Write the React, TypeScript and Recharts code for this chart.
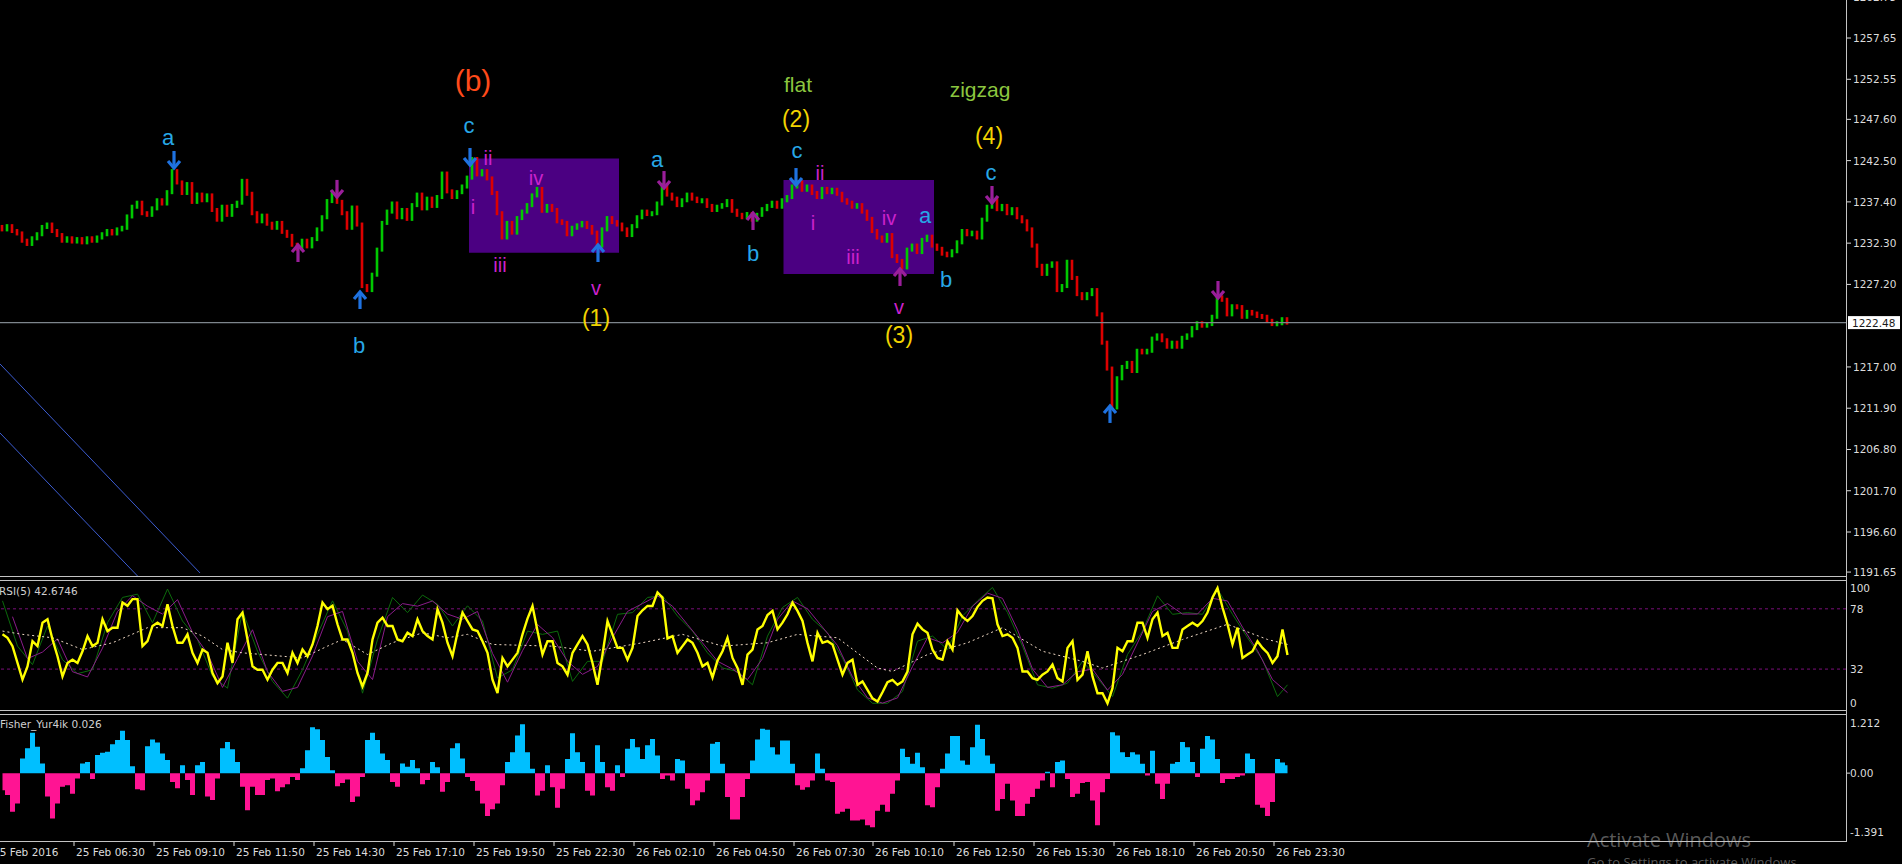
import React from 'react';
import {
  ComposedChart,
  Bar,
  Area,
  Line,
  XAxis,
  YAxis,
  ReferenceArea,
  ReferenceLine,
  ReferenceDot,
} from 'recharts';

// ---------------- DATA ----------------
// 10-minute sampled closes read from the M5 chart (bar index 0 = left edge)
const FIRST_OPEN = 1234.3;
const CLOSES = [
  1234.0, 1234.4, 1233.8, 1233.5, 1232.6, 1232.2, 1232.9, 1233.4, 1234.3, 1234.6,
  1233.8, 1233.3, 1232.6, 1232.9, 1232.5, 1232.8, 1232.4, 1232.9, 1232.6, 1233.0,
  1233.4, 1233.8, 1233.5, 1234.0, 1234.2, 1235.6, 1236.8, 1237.3, 1236.0, 1235.8,
  1236.6, 1237.6, 1237.2, 1238.6, 1241.2, 1239.8, 1238.5, 1239.6, 1237.4, 1238.3,
  1237.6, 1238.2, 1236.4, 1235.2, 1236.8, 1235.8, 1236.9, 1237.3, 1240.0, 1238.4,
  1236.0, 1235.0, 1235.7, 1234.7, 1234.2, 1234.8, 1233.7, 1233.2, 1232.1, 1231.6,
  1232.6, 1231.9, 1232.8, 1234.0, 1235.5, 1237.5, 1238.6, 1237.4, 1236.0, 1234.2,
  1236.7, 1234.6, 1227.0, 1226.5, 1228.4, 1231.5, 1234.8, 1236.2, 1237.2, 1235.5,
  1236.4, 1235.3, 1237.0, 1238.3, 1236.6, 1237.8, 1236.9, 1238.0, 1240.9, 1238.7,
  1238.0, 1238.6, 1239.3, 1240.4, 1242.7, 1240.8, 1241.2, 1240.3, 1238.5, 1236.0,
  1233.0, 1234.8, 1233.6, 1235.4, 1236.2, 1237.0, 1238.2, 1239.0, 1236.3, 1236.9,
  1236.4, 1235.0, 1234.8, 1233.4, 1234.2, 1234.5, 1234.8, 1234.3, 1233.6, 1232.0,
  1234.0, 1235.4, 1234.9, 1234.6, 1234.0, 1233.3, 1234.4, 1235.5, 1236.2, 1235.9,
  1236.0, 1237.2, 1239.5, 1238.3, 1237.8, 1237.0, 1237.6, 1238.3, 1237.8, 1237.5,
  1237.6, 1236.9, 1236.4, 1236.8, 1237.0, 1237.5, 1236.3, 1235.8, 1235.5, 1235.9,
  1235.2, 1235.8, 1236.5, 1236.9, 1237.3, 1236.8, 1237.6, 1238.0, 1239.3, 1239.8,
  1238.9, 1239.3, 1238.5, 1238.0, 1239.0, 1238.6, 1238.9, 1238.4, 1237.6, 1237.3,
  1236.8, 1237.0, 1236.2, 1235.3, 1233.8, 1233.0, 1232.6, 1233.3, 1230.7, 1230.1,
  1229.3, 1231.5, 1232.0, 1231.2, 1232.7, 1233.1, 1232.0, 1231.6, 1231.0, 1230.8,
  1231.3, 1232.4, 1233.8, 1233.4, 1233.6, 1233.0, 1235.2, 1236.8, 1237.8, 1236.5,
  1236.9, 1236.0, 1236.5, 1235.5, 1235.0, 1234.0, 1232.0, 1229.5, 1228.5, 1229.5,
  1229.8, 1226.5, 1227.0, 1230.0, 1228.0, 1226.0, 1225.5, 1226.0, 1226.5, 1223.5,
  1220.0, 1216.8, 1212.0, 1215.6, 1217.0, 1217.5, 1216.5, 1219.0, 1218.8, 1219.0,
  1220.5, 1220.9, 1220.3, 1219.5, 1220.0, 1219.5, 1220.6, 1220.9, 1221.8, 1222.4,
  1222.1, 1222.3, 1223.2, 1225.6, 1225.3, 1223.5, 1224.5, 1224.4, 1223.2, 1223.8,
  1223.6, 1223.3, 1223.2, 1222.7, 1222.3, 1222.4, 1222.9, 1222.48,
];

const RSI = [
  58.5, 55.9, 49.5, 36.7, 24, 34, 53.3, 49.5, 67.4, 70,
  54.6, 41.8, 26.4, 36.7, 39.2, 36.7, 45.6, 57.2, 49.5, 52.1,
  70, 61, 63.6, 63.6, 82.8, 80.3, 85.4, 85.4, 49.5, 53.3,
  64.9, 67.4, 64.9, 81.5, 64.9, 52.1, 52.1, 58.5, 44.4, 36.7,
  46.9, 44.4, 29, 21.3, 26.4, 52.1, 36.7, 70, 75.1, 54.6,
  34.1, 31.5, 31.5, 23.9, 31.5, 36.7, 36.7, 29, 44.4, 36.7,
  46.9, 41.8, 50.8, 64.9, 82.8, 77.7, 80.3, 66.2, 54.6, 54.6,
  44.4, 29, 18.7, 29, 54.6, 67.4, 71.3, 64.9, 64.9, 54.6,
  53.3, 59.7, 57.2, 70, 61, 57.2, 54.6, 77.7, 67.4, 52.1,
  41.8, 59.7, 75.1, 68.7, 62.3, 61, 53.3, 44.4, 23.9, 13.6,
  40.5, 34.1, 39.2, 44.4, 58.5, 70.5, 80.2, 61, 43.1, 53.3,
  53.3, 36.7, 34.1, 27.7, 44.4, 50.8, 57.2, 50.8, 36.7, 20,
  43.1, 68.7, 58.5, 48.2, 48.2, 39.2, 48.2, 72.5, 76.9, 80.2,
  80.2, 90.5, 86.6, 55.4, 57.2, 44.4, 49.5, 54.6, 52, 44.4,
  34.1, 36.7, 25.6, 38.5, 45.6, 55.9, 40.5, 32.8, 20, 43.1,
  46.9, 62.3, 64.9, 73.3, 76.4, 62.3, 67.4, 73.8, 82.8, 76.4,
  68.7, 52, 37.9, 59.7, 52, 53.3, 50.8, 39.2, 27.7, 36.7,
  39.2, 20, 22.6, 16.1, 9.7, 7.2, 14.3, 22, 23.8, 20,
  22.6, 30.2, 58.5, 66.7, 62.3, 59.7, 46.9, 40.5, 39.2, 53.3,
  46.9, 76.9, 71.8, 68.7, 72.5, 79.5, 84.1, 86.6, 86.1, 66.2,
  57.2, 58.5, 55.9, 48.2, 30.2, 30.2, 25.1, 23.8, 27.7, 30.2,
  35.4, 25.1, 22.6, 48.2, 53.3, 23.8, 27.7, 45.6, 26.4, 13.6,
  13.6, 5.9, 17.4, 48.2, 45.6, 53.3, 53.3, 67.4, 67.4, 55.9,
  70, 75.1, 57.2, 59.7, 48.2, 48.2, 62.3, 64.9, 67.4, 64.9,
  68.7, 75.1, 86.6, 93.8, 79, 66.2, 50.8, 63.6, 40.5, 43.1,
  45.6, 53.3, 48.2, 44.4, 36.7, 41.8, 62.3, 42.7,
];

// green signal line, read every 3rd bar (0,3,6,... last = final bar)
const RSI_GREEN = [
  84.1, 49.5, 35.4, 64.9, 39.2, 28.5, 31.5, 67.4, 86.7, 89.2,
  67.4, 93.1, 68.7, 54.6, 26.4, 17.4, 76.4, 45.6, 22.6, 9.8,
  31.5, 58.5, 84.1, 61, 13.6, 54.6, 86.7, 75.1, 88.5, 81.5,
  64.9, 80.3, 68.7, 25.1, 31.5, 61, 58.5, 61, 22.6, 37.9,
  37.9, 73.8, 75.1, 86.7, 87.9, 72.5, 61, 44.4, 32.8, 30.2,
  20, 57.2, 79, 86.7, 70, 59.7, 40.5, 16.1, 5.9, 5.9,
  14.9, 53.3, 57.2, 46.9, 72.5, 84.1, 94.3, 75.1, 49.5, 20,
  17.4, 21.3, 37.9, 25.1, 11, 43.1, 61, 87.9, 73.8, 75.1,
  73.8, 93.1, 73.8, 55.9, 39.2, 11, 20,
];
// purple signal line, read every 3rd bar starting at bar 2
const RSI_PURPLE = [
  72, 40, 45, 55, 30, 26, 48, 76, 88, 80,
  74, 85, 60, 44, 18, 40, 62, 30, 15, 18,
  42, 72, 76, 38, 24, 72, 82, 80, 84, 74,
  70, 76, 44, 22, 46, 66, 56, 38, 28, 34,
  56, 76, 82, 88, 80, 66, 52, 38, 32, 24,
  40, 70, 84, 78, 64, 50, 26, 10, 6, 10,
  34, 56, 52, 60, 80, 90, 86, 62, 32, 18,
  20, 30, 32, 16, 28, 52, 76, 82, 74, 74,
  86, 84, 64, 46, 24, 14,
];
// slow dashed average of RSI
const DASH_BARS = [0, 4, 10, 16, 22, 29, 36, 40, 44, 48, 56, 60, 65, 68, 73, 78, 84, 89, 93, 98,
  110, 118, 128, 136, 144, 153, 159, 167, 175, 178, 185, 193, 200, 208, 216, 220, 228, 236, 245, 253, 257];
const DASH_VALS = [61, 58.5, 55.9, 46.9, 52.1, 63.6, 63.6, 57.2, 46.9, 44.4, 41.8, 40.5, 49.5, 54.6, 43.1,
  52.1, 59.7, 55.9, 58.5, 50.8, 49.5, 45.6, 52.1, 58.5, 49.5, 52.1, 58.5, 55.9, 32.8, 30.2, 43.1, 52.1,
  63.6, 45.6, 37.9, 32.8, 43.1, 54.6, 66.2, 54.6, 50.8];

const FISHER = [
  -0.35, -0.45, -0.79, -0.62, 0.30, 0.51, 0.83, 0.54, 0.20, -0.48,
  -0.93, -0.62, -0.28, -0.25, -0.42, -0.11, 0.20, 0.23, -0.12, 0.37,
  0.42, 0.44, 0.59, 0.68, 0.87, 0.68, 0.14, -0.33, -0.35, 0.55,
  0.69, 0.63, 0.40, 0.27, -0.18, -0.31, 0.16, -0.14, -0.45, 0.16,
  0.23, -0.48, -0.55, -0.11, 0.51, 0.64, 0.49, 0.23, -0.28, -0.76,
  -0.28, -0.45, -0.45, -0.14, -0.11, -0.37, -0.29, -0.23, -0.08, -0.14,
  0.10, 0.47, 0.94, 0.90, 0.68, 0.33, 0.06, -0.27, -0.20, -0.13,
  -0.59, -0.48, -0.08, 0.68, 0.83, 0.68, 0.40, 0.27, -0.18, -0.28,
  0.20, 0.13, 0.27, 0.10, -0.23, -0.14, 0.23, 0.12, -0.38, -0.18,
  0.51, 0.61, 0.30, -0.08, -0.16, -0.36, -0.62, -0.88, -0.74, -0.62,
  -0.25, 0.23, 0.43, 0.77, 1.00, 0.43, 0.09, -0.46, -0.36, 0.16,
  -0.29, -0.71, -0.32, 0.29, 0.82, 0.43, 0.23, -0.36, -0.46, 0.57,
  0.23, -0.29, -0.36, 0.16, -0.08, 0.50, 0.70, 0.53, 0.29, 0.57,
  0.70, 0.36, -0.12, -0.05, -0.15, 0.29, 0.26, -0.32, -0.66, -0.56,
  -0.39, -0.15, 0.60, 0.64, 0.19, -0.49, -0.95, -0.95, -0.49, -0.12,
  0.26, 0.69, 0.91, 0.89, 0.53, 0.38, 0.67, 0.67, 0.19, -0.25,
  -0.34, -0.29, -0.15, 0.40, 0.09, -0.15, -0.18, -0.83, -0.79, -0.73,
  -0.97, -0.97, -0.95, -1.07, -1.11, -0.77, -0.65, -0.79, -0.42, -0.15,
  0.50, 0.33, 0.19, 0.42, 0.12, -0.66, -0.70, -0.29, 0.09, 0.40,
  0.76, 0.76, 0.26, 0.17, 0.53, 0.99, 0.70, 0.36, 0.19, -0.77,
  -0.53, -0.22, -0.56, -0.88, -0.88, -0.63, -0.49, -0.32, -0.15, 0.03,
  -0.29, 0.23, 0.26, -0.12, -0.49, -0.42, -0.20, -0.18, -0.56, -1.07,
  -0.39, -0.12, 0.84, 0.77, 0.43, 0.33, 0.43, 0.38, 0.19, -0.05,
  0.46, -0.22, -0.53, -0.22, 0.19, 0.23, 0.64, 0.53, 0.23, -0.08,
  0.50, 0.76, 0.69, 0.29, -0.20, -0.12, -0.12, -0.08, -0.05, 0.40,
  0.29, -0.65, -0.71, -0.88, -0.59, 0.29, 0.22, 0.16,
];

const PRICE_TICKS = [1262.75, 1257.65, 1252.55, 1247.6, 1242.5, 1237.4, 1232.3, 1227.2, 1222.48, 1217.0,
  1211.9, 1206.8, 1201.7, 1196.6, 1191.65];
const CURRENT_PRICE = 1222.48;
const RSI_TICKS = [0, 32, 78, 100];
const RSI_LEVELS = [78, 32];
const FISHER_TICKS = [-1.391, 0, 1.212];
const FISHER_TICK_LABELS = ['-1.391', '0.00', '1.212'];

const TIME_TICK_POS = [14.8, 30.8, 46.8, 62.8, 78.8, 94.8, 110.8, 126.8, 142.8, 158.8, 174.6, 190.8,
  206.8, 222.8, 238.8, 254.8];
const TIME_LABELS = ['25 Feb 06:30', '25 Feb 09:10', '25 Feb 11:50', '25 Feb 14:30', '25 Feb 17:10',
  '25 Feb 19:50', '25 Feb 22:30', '26 Feb 02:10', '26 Feb 04:50', '26 Feb 07:30', '26 Feb 10:10',
  '26 Feb 12:50', '26 Feb 15:30', '26 Feb 18:10', '26 Feb 20:50', '26 Feb 23:30'];
const FIRST_DATE_LABEL = '25 Feb 2016';

// wave-count boxes [x1, x2, priceTop, priceBottom]
const BOXES = [
  [93.8, 123.8, 1242.75, 1231.1],
  [156.7, 186.8, 1240.1, 1228.5],
];
// channel lines [x1, p1, x2, p2]
const CHANNEL = [
  [0, 1217.37, 40, 1191.54],
  [0, 1208.84, 27.6, 1191.1],
];

// arrows: position, price, direction (1 = down, -1 = up), kind
const ARROW_POS = [34.8, 59.6, 67.4, 72.0, 94.0, 119.6, 132.8, 150.6, 159.2, 180.0, 198.4, 222.0, 243.6];
const ARROW_PRICE = [1242.58, 1231.08, 1239.0, 1225.27, 1242.95, 1231.08, 1240.1, 1235.04, 1240.47,
  1228.12, 1238.25, 1211.19, 1226.51];
const ARROW_DIR = [1, -1, 1, -1, 1, -1, 1, -1, 1, -1, 1, -1, 1];
const ARROW_KIND = ['blue', 'purple', 'purple', 'blue', 'blue', 'blue', 'purple', 'purple', 'blue',
  'purple', 'purple', 'blue', 'purple'];

// wave labels
const LABEL_TEXT = ['(b)', 'a', 'b', 'c', 'ii', 'i', 'iv', 'iii', 'v', '(1)', 'a', 'flat', '(2)', 'c',
  'ii', 'i', 'iv', 'iii', 'a', 'b', 'b', 'v', '(3)', 'zigzag', '(4)', 'c'];
const LABEL_POS = [94.6, 33.6, 71.8, 93.8, 97.6, 94.6, 107.2, 100, 119.2, 119.2, 131.4, 159.6, 159.2, 159.4,
  164, 162.6, 177.8, 170.6, 185, 150.6, 189.2, 179.8, 179.8, 196, 197.8, 198.2];
const LABEL_PRICE = [1252.34, 1245.3, 1219.71, 1246.9, 1242.82, 1236.77, 1240.35, 1229.6, 1226.76, 1223.05,
  1242.58, 1251.85, 1247.64, 1243.69, 1240.97, 1234.79, 1235.41, 1230.59, 1235.66, 1231.08, 1227.75,
  1224.41, 1220.95, 1251.35, 1245.54, 1240.97];
const LABEL_KIND = ['degree', 'abc', 'abc', 'abc', 'roman', 'roman', 'roman', 'roman', 'roman', 'num', 'abc',
  'name', 'num', 'abc', 'roman', 'roman', 'roman', 'roman', 'abc', 'abc', 'abc', 'roman', 'num', 'name',
  'num', 'abc'];

// ---------------- STYLE ----------------
const W = 1902;
const PLOT_W = 1846;
const AXIS_W = W - PLOT_W;
const X_DOMAIN: [number, number] = [0, 369.2];
const MAIN_H = 577;
const RSI_TOP = 580;
const RSI_H = 131;
const FISH_TOP = 714;
const FISH_PLOT_H = 127;
const TIME_AXIS_H = 23;
const AXIS_FONT = '"DejaVu Sans", Verdana, sans-serif';
const TEXT_FONT = '"Liberation Sans", Arial, sans-serif';
const AXIS_COLOR = '#DCDCDC';
const BORDER = '#C4C4C4';
const UP = '#00C800';
const DOWN = '#DC0000';
const FISH_POS = '#00BFFF';
const FISH_NEG = '#FF1493';

const KIND_STYLE: Record<string, { color: string; size: number }> = {
  degree: { color: '#FF4A1A', size: 30 },
  abc: { color: '#27A7E7', size: 22 },
  roman: { color: '#CC22CC', size: 20 },
  num: { color: '#F2D400', size: 23 },
  name: { color: '#8CC63F', size: 21 },
};
const ARROW_COLOR: Record<string, string> = { blue: '#1F72E0', purple: '#9A1E9A' };

// ---------------- DERIVED TABLES ----------------
const candleData = CLOSES.map((c, i) => {
  const o = i === 0 ? FIRST_OPEN : CLOSES[i - 1];
  return { pos: i + 0.5, range: [Math.min(o, c), Math.max(o, c)], up: c >= o };
});

const rsiData = RSI.map((v, i) => {
  const row: any = { pos: i + 0.5, rsi: v };
  if (i % 3 === 0 && RSI_GREEN[i / 3] !== undefined) row.g = RSI_GREEN[i / 3];
  if (i === RSI.length - 1) row.g = RSI_GREEN[RSI_GREEN.length - 1];
  if (i % 3 === 2 && RSI_PURPLE[(i - 2) / 3] !== undefined) row.p = RSI_PURPLE[(i - 2) / 3];
  const di = DASH_BARS.indexOf(i);
  if (di >= 0) row.d = DASH_VALS[di];
  return row;
});

// histogram drawn as step areas split by sign
const fisherData = FISHER.map((f, i) => ({ pos: i + 0.5, up: f > 0 ? f : 0, dn: f < 0 ? f : 0 }));

// ---------------- SHAPES ----------------
const Candle = (props: any) => {
  const { x, y, width, height, payload } = props;
  if (x == null || y == null) return null;
  const cx = x + width / 2;
  const h = Math.max(Math.abs(height || 0), 1);
  return <rect x={cx - 1.3} y={y - 2} width={2.6} height={h + 4} fill={payload.up ? UP : DOWN} />;
};

const Arrow = ({ cx, cy, dir, color }: any) => {
  const tip = cy + dir * 8;
  const tail = cy - dir * 9;
  const wing = cy + dir * 1;
  return (
    <g stroke={color} strokeWidth={3.2} fill="none" strokeLinejoin="miter">
      <line x1={cx} y1={tail} x2={cx} y2={tip - dir * 2} />
      <polyline points={`${cx - 6},${wing} ${cx},${tip} ${cx + 6},${wing}`} />
    </g>
  );
};

const PriceTick = (props: any) => {
  const { y, payload } = props;
  const v = payload.value as number;
  if (v === CURRENT_PRICE) {
    return (
      <g>
        <rect x={PLOT_W + 2} y={y - 6.5} width={52} height={13} fill="#FFFFFF" />
        <text x={PLOT_W + 6} y={y + 4} fill="#1A1A1A" fontSize={10.5} fontFamily={AXIS_FONT}>
          {v.toFixed(2)}
        </text>
      </g>
    );
  }
  return (
    <g>
      <line x1={PLOT_W + 1} x2={PLOT_W + 5} y1={y} y2={y} stroke={AXIS_COLOR} />
      <text x={PLOT_W + 7} y={y + 4} fill={AXIS_COLOR} fontSize={10.5} fontFamily={AXIS_FONT}>
        {v.toFixed(2)}
      </text>
    </g>
  );
};

const RsiTick = (props: any) => {
  const { y, payload } = props;
  const v = payload.value as number;
  const off = v === 100 ? 8 : v === 0 ? -8 : 0;
  return (
    <text x={PLOT_W + 4} y={y + off + 4} fill={AXIS_COLOR} fontSize={10.5} fontFamily={AXIS_FONT}>
      {String(v)}
    </text>
  );
};

const FisherTick = (props: any) => {
  const { y, payload } = props;
  const v = payload.value as number;
  const idx = FISHER_TICKS.indexOf(v);
  const off = v === FISHER_TICKS[2] ? 9 : v === FISHER_TICKS[0] ? -9 : 0;
  return (
    <g>
      {v === 0 && <line x1={PLOT_W + 1} x2={PLOT_W + 4} y1={y} y2={y} stroke={AXIS_COLOR} />}
      <text x={PLOT_W + 4} y={y + off + 4} fill={AXIS_COLOR} fontSize={10.5} fontFamily={AXIS_FONT}>
        {FISHER_TICK_LABELS[idx]}
      </text>
    </g>
  );
};

const TimeTick = (props: any) => {
  const { x, payload } = props;
  const idx = TIME_TICK_POS.indexOf(payload.value);
  if (idx < 0) {
    return (
      <text x={x - 7} y={FISH_PLOT_H + 15} fill={AXIS_COLOR} fontSize={10.5} fontFamily={AXIS_FONT}>
        {FIRST_DATE_LABEL}
      </text>
    );
  }
  return (
    <g>
      <line x1={x} x2={x} y1={FISH_PLOT_H} y2={FISH_PLOT_H + 5} stroke={AXIS_COLOR} />
      <text x={x + 2} y={FISH_PLOT_H + 15} fill={AXIS_COLOR} fontSize={10.5} fontFamily={AXIS_FONT}>
        {TIME_LABELS[idx]}
      </text>
    </g>
  );
};

const hLine = (top: number) => (
  <div key={'h' + top} style={{ position: 'absolute', left: 0, top, width: PLOT_W + 1, height: 1, background: BORDER }} />
);

export default function App() {
  return (
    <div
      style={{
        position: 'absolute',
        left: 0,
        top: 0,
        width: W,
        height: 864,
        background: '#000000',
        overflow: 'hidden',
      }}
    >
      {/* MAIN PRICE PANE */}
      <div style={{ position: 'absolute', left: 0, top: 0 }}>
        <ComposedChart width={W} height={MAIN_H} data={candleData} margin={{ top: 0, right: 0, bottom: 0, left: 0 }}>
          <XAxis dataKey="pos" type="number" domain={X_DOMAIN} hide allowDataOverflow />
          <YAxis
            orientation="right"
            type="number"
            domain={[1191.04, 1262.35]}
            allowDataOverflow
            ticks={PRICE_TICKS}
            interval={0}
            width={AXIS_W}
            axisLine={false}
            tickLine={false}
            tick={<PriceTick />}
          />
          {BOXES.map((b, i) => (
            <ReferenceArea
              key={'box' + i}
              x1={b[0]}
              x2={b[1]}
              y1={b[3]}
              y2={b[2]}
              fill="#4B0082"
              fillOpacity={1}
              stroke="none"
            />
          ))}
          <ReferenceLine y={CURRENT_PRICE} stroke="#7D858C" strokeWidth={1.3} />
          {CHANNEL.map((c, i) => (
            <ReferenceLine
              key={'ch' + i}
              segment={[
                { x: c[0], y: c[1] },
                { x: c[2], y: c[3] },
              ]}
              stroke="#3C5CD0"
              strokeWidth={1}
              ifOverflow="visible"
            />
          ))}
          <Bar dataKey="range" barSize={2} shape={<Candle />} isAnimationActive={false} />
          {ARROW_POS.map((p, i) => (
            <ReferenceDot
              key={'ar' + i}
              x={p}
              y={ARROW_PRICE[i]}
              r={0}
              ifOverflow="visible"
              shape={(sp: any) => (
                <Arrow cx={sp.cx} cy={sp.cy} dir={ARROW_DIR[i]} color={ARROW_COLOR[ARROW_KIND[i]]} />
              )}
            />
          ))}
          {LABEL_TEXT.map((t, i) => (
            <ReferenceDot
              key={'lb' + i}
              x={LABEL_POS[i]}
              y={LABEL_PRICE[i]}
              r={0}
              ifOverflow="visible"
              shape={(sp: any) => (
                <text
                  x={sp.cx}
                  y={sp.cy}
                  textAnchor="middle"
                  dominantBaseline="central"
                  fill={KIND_STYLE[LABEL_KIND[i]].color}
                  fontSize={KIND_STYLE[LABEL_KIND[i]].size}
                  fontFamily={TEXT_FONT}
                >
                  {t}
                </text>
              )}
            />
          ))}
        </ComposedChart>
      </div>

      {/* RSI PANE */}
      <div style={{ position: 'absolute', left: 0, top: RSI_TOP }}>
        <ComposedChart width={W} height={RSI_H} data={rsiData} margin={{ top: 0, right: 0, bottom: 0, left: 0 }}>
          <XAxis dataKey="pos" type="number" domain={X_DOMAIN} hide allowDataOverflow />
          <YAxis
            orientation="right"
            type="number"
            domain={[0, 100]}
            ticks={RSI_TICKS}
            interval={0}
            width={AXIS_W}
            axisLine={false}
            tickLine={false}
            tick={<RsiTick />}
          />
          {RSI_LEVELS.map((l) => (
            <ReferenceLine key={'lv' + l} y={l} stroke="#7A0F7A" strokeDasharray="3 3" strokeWidth={1} />
          ))}
          <Line dataKey="g" stroke="#0C6A0C" strokeWidth={1} dot={false} connectNulls isAnimationActive={false} />
          <Line dataKey="p" stroke="#8A1C8A" strokeWidth={1} dot={false} connectNulls isAnimationActive={false} />
          <Line
            dataKey="d"
            stroke="#EED8C4"
            strokeWidth={1}
            strokeDasharray="2 3"
            dot={false}
            connectNulls
            isAnimationActive={false}
          />
          <Line dataKey="rsi" stroke="#FFFF00" strokeWidth={2.4} dot={false} isAnimationActive={false} />
        </ComposedChart>
      </div>

      {/* FISHER PANE */}
      <div style={{ position: 'absolute', left: 0, top: FISH_TOP }}>
        <ComposedChart
          width={W}
          height={FISH_PLOT_H + TIME_AXIS_H}
          data={fisherData}
          margin={{ top: 0, right: 0, bottom: 0, left: 0 }}
        >
          <XAxis
            dataKey="pos"
            type="number"
            domain={X_DOMAIN}
            allowDataOverflow
            ticks={[0, ...TIME_TICK_POS]}
            interval={0}
            height={TIME_AXIS_H}
            axisLine={false}
            tickLine={false}
            tick={<TimeTick />}
          />
          <YAxis
            orientation="right"
            type="number"
            domain={[-1.391, 1.212]}
            ticks={FISHER_TICKS}
            interval={0}
            width={AXIS_W}
            axisLine={false}
            tickLine={false}
            tick={<FisherTick />}
          />
          <Area
            dataKey="up"
            type="step"
            baseValue={0}
            fill={FISH_POS}
            fillOpacity={1}
            stroke="none"
            dot={false}
            activeDot={false}
            isAnimationActive={false}
          />
          <Area
            dataKey="dn"
            type="step"
            baseValue={0}
            fill={FISH_NEG}
            fillOpacity={1}
            stroke="none"
            dot={false}
            activeDot={false}
            isAnimationActive={false}
          />
        </ComposedChart>
      </div>

      {/* pane borders */}
      {[MAIN_H - 1, RSI_TOP, RSI_TOP + RSI_H - 1, FISH_TOP, FISH_TOP + FISH_PLOT_H].map(hLine)}
      <div style={{ position: 'absolute', left: PLOT_W, top: 0, width: 1, height: FISH_TOP + FISH_PLOT_H + 1, background: BORDER }} />

      {/* indicator captions */}
      <div style={{ position: 'absolute', left: -1, top: RSI_TOP + 5, color: '#D0D0D0', font: `10.5px ${AXIS_FONT}`, whiteSpace: 'nowrap' }}>
        RSI(5) 42.6746
      </div>
      <div style={{ position: 'absolute', left: 0, top: FISH_TOP + 4, color: '#D0D0D0', font: `10.5px ${AXIS_FONT}`, whiteSpace: 'nowrap' }}>
        Fisher_Yur4ik 0.026
      </div>

      {/* OS watermark */}
      <div style={{ position: 'absolute', left: 1587, top: 826, color: 'rgba(200,200,200,0.45)', font: '20px "Open Sans", "Noto Sans", sans-serif', whiteSpace: 'nowrap' }}>
        Activate Windows
      </div>
      <div style={{ position: 'absolute', left: 1587, top: 853, color: 'rgba(200,200,200,0.45)', font: '13px "Open Sans", "Noto Sans", sans-serif', whiteSpace: 'nowrap' }}>
        Go to Settings to activate Windows.
      </div>
    </div>
  );
}
